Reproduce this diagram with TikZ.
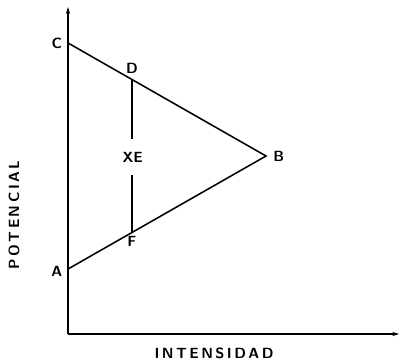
\documentclass[tikz,border=0pt]{standalone}
\usepackage{tikz}
\usetikzlibrary{arrows.meta,positioning}
\tikzset{
  eje/.style={line width=1.2pt, -{Stealth[length=5pt,width=3pt]}},
  recta/.style={line width=1.1pt},
  letra/.style={font=\sffamily\bfseries\fontsize{10.5}{12}\selectfont, inner sep=1pt}
}

\begin{document}
\begin{tikzpicture}[x=1cm, y=1cm]
        \useasboundingbox (0,0) rectangle (10,9.025);
        % Axes
        \coordinate (O) at (1.7,0.675);
        \coordinate (ytop) at (1.7,8.85);
        \coordinate (xend) at (9.98,0.675);
        \draw[eje] (O) -- (ytop);
        \draw[eje] (O) -- (xend);
        % Points
        \coordinate (C) at (1.7,7.95);
        \coordinate (A) at (1.7,2.3);
        \coordinate (B) at (6.65,5.125);
        \coordinate (D) at (3.3,7.03);
        \coordinate (F) at (3.3,3.22);
        % Triangle sides
        \draw[recta] (C) -- (B) -- (A);
        % Labels
        \node[letra, left=3pt of C] (lC) {C};
        \node[letra, left=3pt of A, yshift=-2pt] (lA) {A};
        \node[letra, right=4pt of B] (lB) {B};
        \node[letra, above=3pt of D] (lD) {D};
        \node[letra, below=2pt of F] (lF) {F};
        \node[letra] (XE) at (3.32,5.1) {XE};
        % Segment D-F, broken at XE
        \draw[recta] (D) -- ([yshift=8pt]XE.north -| D);
        \draw[recta] (F) -- ([yshift=-8pt]XE.south -| F);
        % Axis titles
        \node[letra, rotate=90] (ylab) at (0.35,3.65) {P\,O\,T\,E\,N\,C\,I\,A\,L};
        \node[letra] (xlab) at (5.35,0.2) {I\,N\,T\,E\,N\,S\,I\,D\,A\,D};
      \end{tikzpicture}
\end{document}
